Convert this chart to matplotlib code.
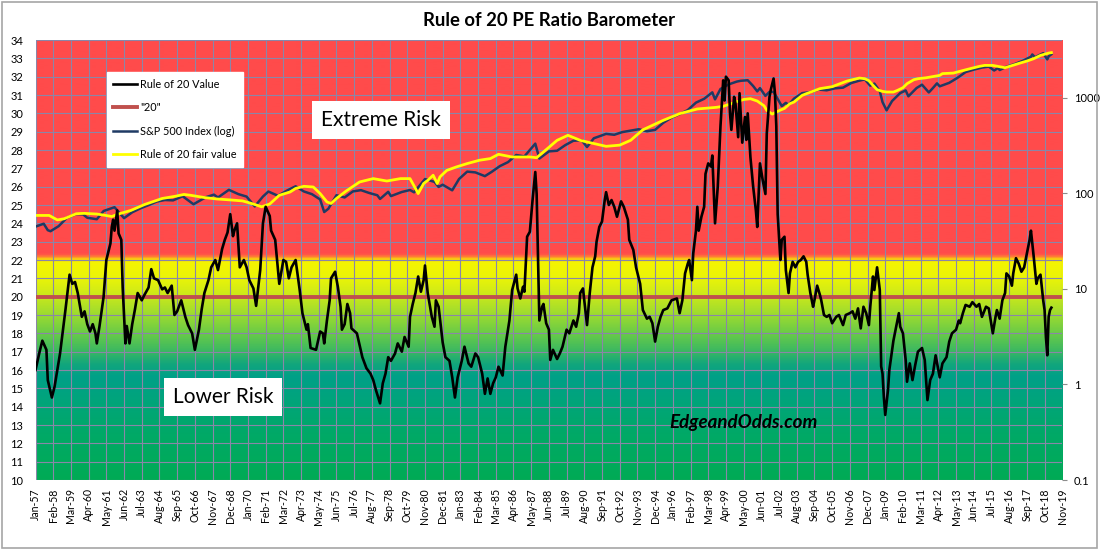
import numpy as np
import matplotlib
matplotlib.use("Agg")
import matplotlib.pyplot as plt
from matplotlib.colors import LinearSegmentedColormap
from matplotlib.ticker import NullLocator
from matplotlib.patches import Rectangle

plt.rcParams['font.family'] = ['Lato', 'DejaVu Sans']

# ---------------- data (months counted from Jan-1957) ----------------
x_tick_labels = ['Jan-57', 'Feb-58', 'Mar-59', 'Apr-60', 'May-61', 'Jun-62', 'Jul-63', 'Aug-64',
                 'Sep-65', 'Oct-66', 'Nov-67', 'Dec-68', 'Jan-70', 'Feb-71', 'Mar-72', 'Apr-73',
                 'May-74', 'Jun-75', 'Jul-76', 'Aug-77', 'Sep-78', 'Oct-79', 'Nov-80', 'Dec-81',
                 'Jan-83', 'Feb-84', 'Mar-85', 'Apr-86', 'May-87', 'Jun-88', 'Jul-89', 'Aug-90',
                 'Sep-91', 'Oct-92', 'Nov-93', 'Dec-94', 'Jan-96', 'Feb-97', 'Mar-98', 'Apr-99',
                 'May-00', 'Jun-01', 'Jul-02', 'Aug-03', 'Sep-04', 'Oct-05', 'Nov-06', 'Dec-07',
                 'Jan-09', 'Feb-10', 'Mar-11', 'Apr-12', 'May-13', 'Jun-14', 'Jul-15', 'Aug-16',
                 'Sep-17', 'Oct-18', 'Nov-19']

left_ticks = list(range(10, 35))
right_ticks = [0.1, 1, 10, 100, 1000]
right_tick_labels = ['0.1', '1', '10', '100', '1000']

r20_months = [0, 3, 5, 8, 9, 12, 14, 18, 22, 25,
              27, 29, 31, 34, 36, 38, 40, 42, 44, 45,
              47, 50, 52, 55, 56, 57, 58, 60, 61, 63,
              64, 66, 67, 69, 71, 73, 75, 78, 80, 83,
              85, 87, 90, 93, 95, 97, 100, 102, 104, 107,
              110, 112, 115, 117, 120, 122, 124, 127, 129, 132,
              134, 137, 139, 141, 143, 145, 146, 148, 150, 153,
              155, 157, 160, 162, 165, 167, 169, 172, 173, 176,
              179, 182, 184, 186, 188, 191, 194, 196, 199, 200,
              202, 206, 209, 211, 212, 214, 216, 217, 220, 222,
              224, 225, 227, 229, 231, 232, 236, 238, 240, 243,
              246, 248, 250, 253, 255, 257, 259, 261, 264, 266,
              269, 271, 274, 275, 277, 279, 281, 283, 285, 286,
              288, 291, 293, 294, 296, 299, 301, 304, 306, 308,
              310, 313, 315, 318, 320, 323, 325, 328, 330, 332,
              334, 336, 338, 340, 343, 345, 348, 350, 353, 354,
              356, 358, 359, 361, 363, 365, 367, 368, 370, 372,
              373, 375, 377, 378, 380, 383, 385, 387, 390, 392,
              395, 397, 399, 400, 402, 404, 405, 407, 409, 411,
              412, 414, 416, 418, 419, 421, 423, 425, 427, 430,
              432, 435, 436, 439, 441, 444, 446, 449, 451, 453,
              455, 457, 459, 461, 464, 467, 471, 473, 475, 477,
              479, 480, 482, 483, 485, 486, 487, 489, 491, 492,
              494, 496, 497, 499, 501, 503, 505, 506, 507, 509,
              510, 511, 513, 514, 516, 517, 519, 521, 522, 523,
              525, 527, 529, 530, 532, 534, 536, 537, 539, 540,
              542, 543, 544, 545, 547, 548, 550, 551, 553, 554,
              556, 558, 560, 562, 564, 566, 567, 569, 571, 572,
              574, 576, 577, 579, 581, 583, 585, 588, 590, 593,
              595, 598, 600, 602, 604, 606, 608, 610, 612, 613,
              615, 616, 618, 620, 621, 622, 623, 624, 626, 627,
              630, 632, 634, 635, 637, 639, 640, 642, 644, 646,
              648, 651, 653, 655, 657, 659, 661, 664, 666, 669,
              671, 673, 676, 678, 679, 681, 683, 686, 688, 691,
              693, 695, 698, 700, 703, 705, 706, 708, 710, 712,
              713, 715, 717, 718, 720, 722, 724, 726, 728, 730,
              731, 733, 735, 736, 738, 740, 741, 742, 743, 744,
              745, 746]
r20_values = [16.0, 17.0, 17.6, 17.1, 15.45, 14.5, 15.1, 16.9, 19.3, 21.2,
              20.7, 20.8, 20.2, 18.9, 19.2, 18.5, 18.1, 18.5, 18.0, 17.45,
              18.4, 20.0, 22.0, 22.9, 23.8, 24.2, 23.6, 24.7, 23.45, 23.1,
              20.5, 17.45, 18.4, 17.45, 18.5, 19.3, 20.2, 19.8, 20.1, 20.5,
              21.5, 21.0, 20.9, 20.4, 20.5, 20.2, 20.6, 19.0, 19.2, 19.8,
              18.9, 18.45, 18.0, 17.1, 18.2, 19.3, 20.2, 20.9, 21.6, 22.0,
              21.45, 22.6, 23.1, 23.5, 24.5, 23.3, 23.6, 24.0, 21.6, 22.0,
              21.6, 20.9, 20.45, 19.5, 21.45, 24.0, 24.9, 24.4, 23.6, 23.1,
              20.7, 22.0, 21.9, 21.0, 21.6, 22.0, 20.36, 19.1, 18.2, 18.5,
              17.2, 17.1, 18.1, 18.0, 17.45, 18.7, 19.8, 21.0, 21.36, 20.54,
              19.45, 18.2, 18.5, 19.6, 19.1, 18.27, 18.0, 17.36, 16.7, 16.1,
              15.8, 15.45, 14.9, 14.18, 15.27, 15.8, 16.7, 16.5, 16.9, 17.45,
              17.0, 17.8, 17.27, 18.9, 19.6, 20.2, 21.1, 20.27, 20.9, 21.7,
              20.2, 18.9, 18.36, 19.8, 19.45, 17.5, 16.7, 16.5, 15.6, 14.5,
              15.6, 16.5, 17.27, 16.36, 16.18, 16.9, 16.7, 15.8, 14.7, 15.54,
              14.7, 15.27, 15.6, 16.18, 15.7, 17.27, 18.7, 20.36, 21.2, 20.45,
              19.9, 20.54, 20.27, 23.27, 23.54, 25.27, 26.8, 25.6, 18.7, 19.45,
              19.6, 18.55, 18.2, 16.55, 17.1, 16.6, 16.9, 17.27, 18.2, 18.0,
              18.7, 18.36, 19.1, 20.2, 20.45, 19.1, 18.45, 20.2, 21.6, 22.2,
              23.0, 23.8, 24.1, 25.27, 25.7, 25.0, 25.27, 24.9, 24.36, 25.2,
              24.9, 24.2, 23.1, 22.55, 21.6, 20.7, 19.27, 18.8, 18.9, 18.55,
              17.55, 18.36, 18.9, 19.27, 19.36, 19.8, 19.9, 19.1, 19.8, 21.27,
              21.8, 22.0, 20.9, 22.36, 23.6, 24.9, 23.6, 24.36, 24.9, 26.7,
              27.27, 27.1, 27.7, 24.0, 26.0, 29.3, 31.8, 30.7, 32.0, 31.8,
              30.0, 29.1, 30.9, 30.55, 28.7, 31.1, 28.4, 29.8, 28.55, 30.0,
              27.6, 26.0, 24.7, 23.8, 27.27, 26.36, 25.6, 28.9, 30.9, 31.3,
              31.9, 31.1, 29.3, 24.5, 22.0, 23.1, 23.27, 21.45, 20.2, 21.27,
              21.9, 21.6, 21.9, 22.0, 22.2, 21.9, 21.2, 20.2, 19.45, 19.8,
              20.6, 20.1, 19.8, 19.0, 18.9, 19.0, 18.55, 18.9, 19.0, 18.45,
              19.0, 19.1, 19.2, 18.8, 19.36, 18.27, 19.45, 19.1, 18.45, 19.45,
              21.1, 20.36, 21.6, 20.36, 16.2, 15.8, 14.5, 13.55, 14.9, 16.0,
              17.6, 18.36, 19.1, 18.36, 18.0, 16.55, 15.36, 16.36, 15.45, 16.27,
              17.0, 17.2, 16.55, 14.36, 15.45, 15.8, 16.8, 15.6, 16.36, 16.7,
              17.55, 18.0, 18.2, 18.7, 18.55, 19.1, 19.55, 19.45, 19.7, 19.45,
              19.6, 18.9, 19.45, 19.36, 18.0, 18.9, 19.27, 18.8, 19.8, 20.2,
              21.27, 21.1, 20.6, 21.27, 22.1, 21.8, 21.36, 21.6, 22.36, 23.1,
              23.6, 22.2, 20.7, 21.0, 21.2, 19.8, 19.27, 17.8, 16.8, 18.9,
              19.27, 19.4]

threshold_value = 20

sp500_months = [0, 6, 9, 11, 17, 23, 30, 35, 38, 45,
                50, 58, 65, 71, 77, 83, 89, 95, 101, 108,
                116, 125, 131, 134, 142, 149, 155, 161, 167, 171,
                178, 185, 191, 197, 203, 209, 212, 215, 221, 227,
                233, 239, 245, 251, 253, 259, 261, 269, 275, 278,
                286, 293, 296, 299, 306, 311, 317, 323, 330, 335,
                341, 347, 353, 359, 367, 370, 377, 383, 389, 395,
                401, 405, 410, 419, 425, 431, 437, 443, 449, 455,
                461, 467, 473, 479, 485, 491, 497, 499, 503, 509,
                515, 518, 523, 527, 530, 532, 536, 539, 542, 546,
                548, 551, 553, 557, 563, 569, 575, 581, 587, 593,
                599, 605, 609, 613, 616, 620, 622, 625, 629, 635,
                639, 641, 647, 651, 656, 659, 662, 664, 671, 677,
                683, 689, 695, 700, 704, 707, 708, 713, 719, 725,
                731, 732, 734, 740, 743, 744, 746]
sp500_values = [44.7, 47.9, 41.0, 40.0, 45.2, 55.2, 60.5, 59.9, 55.3, 53.4,
                65.1, 71.3, 54.8, 63.1, 69.4, 75.0, 81.7, 84.8, 84.1, 92.9,
                76.6, 90.6, 96.5, 90.2, 108.4, 97.7, 92.1, 72.7, 92.2, 104.0,
                94.0, 107.1, 118.1, 104.3, 97.6, 86.0, 63.5, 68.6, 95.2, 90.2,
                104.3, 107.5, 100.5, 95.1, 87.0, 103.3, 93.2, 102.9, 107.9, 102.1,
                140.5, 131.2, 116.2, 122.6, 107.1, 140.6, 168.1, 164.9, 150.7, 167.2,
                191.9, 211.3, 250.8, 242.2, 329.8, 230.3, 273.5, 277.7, 318.0, 353.4,
                358.0, 304.0, 375.2, 417.1, 408.1, 435.7, 450.5, 466.5, 444.3, 459.3,
                544.8, 615.9, 670.6, 740.7, 885.1, 970.4, 1133.8, 957.3, 1229.2, 1372.7,
                1469.3, 1498.6, 1517.7, 1320.3, 1160.3, 1255.8, 1040.9, 1148.1, 1147.4, 911.6,
                815.3, 879.8, 841.2, 974.5, 1111.9, 1140.8, 1211.9, 1191.3, 1248.3, 1270.2,
                1418.3, 1503.4, 1549.4, 1330.6, 1400.4, 1166.4, 896.2, 735.1, 919.3, 1115.1,
                1186.7, 1030.7, 1257.6, 1363.6, 1131.4, 1257.6, 1408.5, 1310.3, 1426.2, 1606.3,
                1848.4, 1960.2, 2058.9, 2107.4, 1920.0, 2043.9, 1940.2, 2098.9, 2238.8, 2423.4,
                2673.6, 2823.8, 2640.9, 2914.0, 2506.9, 2704.1, 2834.4]

fair_months = [0, 10, 16, 21, 30, 36, 45, 50, 56, 60,
               70, 80, 93, 103, 109, 114, 124, 133, 143, 152,
               160, 166, 172, 179, 187, 191, 197, 204, 209, 214,
               217, 221, 228, 238, 248, 258, 268, 275, 279, 281,
               285, 288, 292, 295, 297, 302, 309, 317, 326, 334,
               340, 350, 363, 368, 378, 383, 391, 400, 405, 419,
               429, 437, 446, 461, 470, 473, 486, 500, 505, 510,
               520, 525, 530, 535, 537, 541, 547, 550, 554, 557,
               563, 566, 576, 585, 596, 605, 609, 612, 615, 618,
               622, 625, 630, 633, 637, 640, 645, 648, 654, 664,
               666, 674, 683, 693, 697, 703, 712, 723, 728, 733,
               738, 744, 746]
fair_values = [58.5, 58.5, 52.5, 54, 61, 61.5, 60.5, 59, 57, 60,
               66, 76, 88, 93, 97, 95, 90, 87, 85, 83,
               77, 72, 77, 95, 103, 112, 118, 116, 99, 81,
               78, 88, 105, 131, 142, 134, 142, 142, 112, 99,
               126, 136, 154, 126, 148, 173, 188, 204, 221, 230,
               255, 239, 239, 235, 310, 357, 403, 357, 343, 309,
               318, 357, 460, 578, 651, 679, 760, 790, 810, 855,
               955, 973, 920, 820, 735, 672, 740, 770, 863, 898,
               1054, 1097, 1239, 1300, 1489, 1600, 1574, 1500, 1341, 1210,
               1160, 1143, 1142, 1189, 1268, 1396, 1538, 1574, 1611, 1706,
               1780, 1803, 1950, 2118, 2170, 2168, 2052, 2296, 2408, 2549,
               2761, 2919, 2950]

# ---------------- helpers ----------------
month_names = ['Jan', 'Feb', 'Mar', 'Apr', 'May', 'Jun',
               'Jul', 'Aug', 'Sep', 'Oct', 'Nov', 'Dec']


def label_to_month(lbl):
    mon, yy = lbl.split('-')
    yy = int(yy)
    year = 2000 + yy if yy < 50 else 1900 + yy
    return (year - 1957) * 12 + month_names.index(mon)


tick_pos = [label_to_month(l) for l in x_tick_labels]
x_min, x_max = tick_pos[0], tick_pos[-1]

# ---------------- figure ----------------
fig = plt.figure(figsize=(11, 5.5), dpi=100)
ax = fig.add_axes([0.0323, 0.12727, 0.9334, 0.8])

# background risk gradient
zone_stops = [(10.0, '#00AB55'), (12.5, '#00A967'), (14.5, '#00A47D'),
              (15.6, '#00A088'), (16.3, '#12A67C'), (17.0, '#3AB862'),
              (18.0, '#6ACB47'), (19.0, '#9BDB30'), (20.0, '#C8E81C'),
              (21.0, '#EAF408'), (21.9, '#F5F500'), (22.05, '#F9D00E'),
              (22.2, '#FF7A38'), (22.35, '#FF4B4B'), (34.0, '#FF4B4B')]
cmap = LinearSegmentedColormap.from_list(
    'zones', [((v - 10) / 24.0, c) for v, c in zone_stops])
grad = np.linspace(0, 1, 1200).reshape(-1, 1)
ax.imshow(grad, extent=[x_min, x_max, 10, 34], origin='lower', aspect='auto',
          cmap=cmap, zorder=0, interpolation='bilinear')

ax.set_xlim(x_min, x_max)
ax.set_ylim(10, 34)
ax.set_yticks(left_ticks)
ax.set_yticklabels([str(t) for t in left_ticks], fontsize=8)
ax.set_xticks(tick_pos)
ax.set_xticklabels(x_tick_labels, rotation=90, fontsize=7.6)
ax.grid(True, color='#8A86A8', lw=0.8)
ax.tick_params(axis='both', length=0)
ax.tick_params(axis='y', pad=9)
ax.tick_params(axis='x', pad=6)
for s in ax.spines.values():
    s.set_visible(False)

# right log axis: S&P and fair value
ax2 = ax.twinx()
ax2.set_yscale('log')
ax2.set_ylim(0.1, 4000)
l_sp, = ax2.plot(sp500_months, sp500_values, color='#1F3A64', lw=1.8,
                 label='S&P 500 Index (log)', zorder=3)
l_fv, = ax2.plot(fair_months, fair_values, color='#FFFF00', lw=2.0,
                 label='Rule of 20 fair value', zorder=4)
ax2.set_yticks(right_ticks)
ax2.set_yticklabels(right_tick_labels, fontsize=8)
ax2.yaxis.set_minor_locator(NullLocator())
ax2.tick_params(axis='y', length=3.5, width=0.8, color='#8C8C8C', pad=5)
for s in ax2.spines.values():
    s.set_visible(False)

# top axis: Rule of 20 value and the "20" line
ax3 = ax.twinx()
ax3.set_ylim(10, 34)
ax3.set_yticks([])
l_20 = ax3.axhline(threshold_value, color='#C0504D', lw=2.8, label='"20"', zorder=3)
l_r20, = ax3.plot(r20_months, r20_values, color='black', lw=1.9,
                  label='Rule of 20 Value', zorder=4)
for s in ax3.spines.values():
    s.set_visible(False)

leg = ax3.legend(handles=[l_r20, l_20, l_sp, l_fv], loc='upper left',
                 bbox_to_anchor=(0.0696, 0.927), borderaxespad=0,
                 fontsize=7.8, frameon=True, fancybox=False, framealpha=1,
                 handlelength=2.2, handletextpad=0.25, labelspacing=1.15,
                 borderpad=0.6)
leg.get_frame().set_facecolor('white')
leg.get_frame().set_edgecolor('white')
leg.set_zorder(10)

box = dict(boxstyle='square,pad=0.42', facecolor='white', edgecolor='none')
ax3.text(0.3364, 0.818, 'Extreme Risk', transform=ax3.transAxes, fontsize=15,
         ha='center', va='center', bbox=box, zorder=10)
ax3.text(0.1826, 0.1886, 'Lower Risk', transform=ax3.transAxes, fontsize=15,
         ha='center', va='center', bbox=box, zorder=10)
ax3.text(0.6894, 0.130, 'EdgeandOdds.com', transform=ax3.transAxes,
         fontsize=13.5, fontweight='bold', fontstyle='italic',
         ha='center', va='center', zorder=10)

fig.text(0.4995, 0.9636, 'Rule of 20 PE Ratio Barometer', ha='center',
         va='center', fontsize=13.3, fontweight='bold')

fig.patches.append(Rectangle((0.002, 0.004), 0.995, 0.992, transform=fig.transFigure,
                             fill=False, edgecolor='#A6A6A6', lw=1.2))

fig.savefig('out.png', dpi=100)
